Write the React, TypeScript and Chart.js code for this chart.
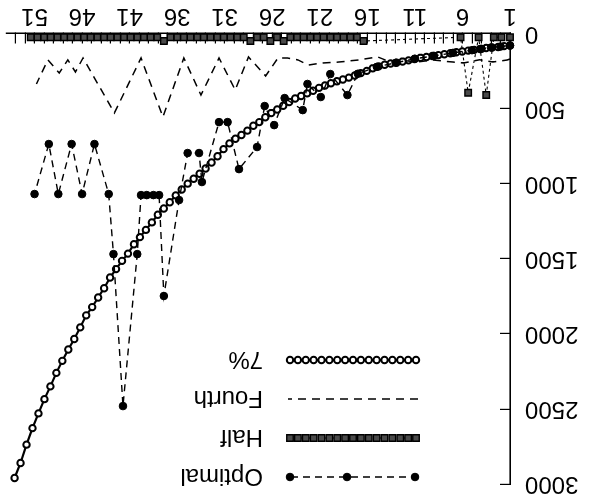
import React, { useEffect, useRef } from 'react';
import { Chart, registerables } from 'chart.js';

Chart.register(...registerables);

// ---- axis ticks ----
const X_TICK_LABELS = [1, 6, 11, 16, 21, 26, 31, 36, 41, 46, 51];
const X_MIN = 1;
const X_MAX = 54;
const Y_MIN = 0;
const Y_MAX = 3000;
const Y_TICK_VALUES = [0, 500, 1000, 1500, 2000, 2500, 3000];

// ---- series ----
const SERIES_NAMES = ['Optimal', 'Half', 'Fourth', '7%'];

const OPTIMAL_X = [1, 2, 3, 4, 5, 7, 9, 11, 13, 15, 17, 18.1, 19.9, 20.9, 22.3, 22.8, 24.7, 25.8, 26.8, 27.6, 29.5, 30.7, 31.6, 33.4, 33.7, 34.9, 35.8, 37.4, 37.9, 38.5, 39.2, 39.8, 40.2, 41.7, 42.7, 43.2, 44.7, 46.0, 47.1, 48.5, 49.5, 51.0];
const OPTIMAL_Y = [80, 87, 93, 102, 111, 129, 149, 168, 195, 222, 268, 410, 270, 423, 336, 510, 430, 610, 483, 756, 903, 590, 590, 989, 796, 796, 1109, 1748, 1076, 1076, 1076, 1076, 1469, 2481, 1469, 1069, 736, 1069, 736, 1069, 736, 1069];

const HALF_X = [1, 1.9, 2.7, 3.5, 4.3, 5.4, 6.2,
  16.4, 17.1, 17.8, 18.5, 19.2, 19.9, 20.6, 21.3, 22.0, 22.7,
  23.4, 24.1, 24.8, 25.5, 26.2, 26.9, 27.6, 28.3, 29.0, 29.7,
  30.4, 31.1, 31.8, 32.5, 33.2, 33.9, 34.6, 35.3, 36.0, 36.7,
  37.4, 38.1, 38.8, 39.5, 40.2, 40.9, 41.6, 42.3, 43.0, 43.7,
  44.4, 45.1, 45.8, 46.5, 47.2, 47.9, 48.6, 49.3, 50.0, 50.7, 51.4];
const HALF_Y = [25, 25, 25, 410, 25, 395, 25,
  50, 25, 25, 25, 25, 25, 25, 25, 25, 25,
  25, 25, 50, 25, 50, 25, 25, 50, 25, 25,
  25, 25, 25, 25, 25, 25, 25, 25, 25, 25,
  50, 25, 25, 25, 25, 25, 25, 25, 25, 25,
  25, 25, 25, 25, 25, 25, 25, 25, 25, 25, 25];

const FOURTH_X = [1, 1.3, 2.8, 4.2, 5.9, 7.0, 9.1, 10.8, 12.2, 13.6, 14.9, 16.9, 19.0, 20.7, 22.2, 23.3, 24.4, 25.4, 26.7, 28.5, 29.9, 31.6, 33.5, 35.3, 37.5, 39.8, 42.6, 45.9, 46.7, 47.5, 48.4, 49.6, 50.8];
const FOURTH_Y = [170, 176, 190, 175, 196, 190, 176, 190, 180, 190, 156, 176, 190, 196, 210, 176, 163, 163, 283, 156, 376, 163, 410, 163, 556, 163, 529, 163, 256, 176, 263, 176, 336];

// 7% series: evenly spaced samples starting at x = 1
const SEVEN_START = 1;
const SEVEN_STEP = 0.6277;
const SEVEN_Y = [80, 84, 90, 93, 97, 103, 109, 114, 120, 125,
  132, 138, 144, 150, 156, 162, 170, 179, 187, 194,
  200, 208, 219, 232, 249, 264, 280, 294, 306, 318,
  331, 346, 362, 381, 399, 416, 433, 456, 481, 506,
  530, 558, 590, 614, 647, 676, 701, 732, 770, 817,
  859, 899, 934, 967, 1000, 1039, 1078, 1124, 1165, 1207,
  1258, 1308, 1356, 1403, 1466, 1514, 1569, 1625, 1696, 1758,
  1822, 1877, 1957, 2034, 2104, 2180, 2260, 2350, 2435, 2530,
  2628, 2738, 2860, 2960];

const FONT_FAMILY = '"Liberation Sans", Arial, sans-serif';
const FONT_SIZE = 24;

const pts = (xs: number[], ys: number[]) => xs.map((x, i) => ({ x, y: ys[i] }));

// ---- legend drawn inside the plot (gnuplot style: sample then text) ----
const LEGEND_ROW_Y = [17, 56, 95, 134];
const LEGEND_X0 = 172;
const LEGEND_X1 = 302;
const LEGEND_TEXT_X = 327;

function drawMarker(ctx: CanvasRenderingContext2D, style: string, x: number, y: number, r: number, fill: string, bw: number) {
  ctx.save();
  ctx.setLineDash([]);
  ctx.lineWidth = bw;
  ctx.strokeStyle = '#000';
  ctx.fillStyle = fill;
  ctx.beginPath();
  if (style === 'rect') {
    const s = Math.SQRT1_2 * r;
    ctx.rect(x - s, y - s, 2 * s, 2 * s);
  } else {
    ctx.arc(x, y, r, 0, Math.PI * 2);
  }
  ctx.fill();
  if (bw > 0) ctx.stroke();
  ctx.restore();
}

const legendPlugin = {
  id: 'gnuLegend',
  afterDraw(chart: any) {
    const ctx: CanvasRenderingContext2D = chart.ctx;
    chart.data.datasets.forEach((ds: any, i: number) => {
      const y = LEGEND_ROW_Y[i];
      ctx.save();
      ctx.strokeStyle = '#000';
      ctx.lineWidth = ds.borderWidth;
      ctx.setLineDash(ds.borderDash || []);
      ctx.beginPath();
      ctx.moveTo(LEGEND_X0, y);
      ctx.lineTo(LEGEND_X1, y);
      ctx.stroke();
      ctx.restore();
      let xs: number[] = [];
      if (ds.legendMarkers === 'ends') {
        xs = [LEGEND_X0 + 3, 243, LEGEND_X1 - 2];
      } else if (ds.legendMarkers === 'dense') {
        const n = 17;
        for (let k = 0; k < n; k++) xs.push(LEGEND_X0 + 2 + (k * (LEGEND_X1 - LEGEND_X0 - 4)) / (n - 1));
      }
      xs.forEach((mx) => drawMarker(ctx, ds.pointStyle, mx, y, ds.pointRadius, ds.pointBackgroundColor, ds.pointBorderWidth));
      ctx.save();
      ctx.fillStyle = '#000';
      ctx.font = `${FONT_SIZE}px ${FONT_FAMILY}`;
      ctx.textBaseline = 'middle';
      ctx.textAlign = 'left';
      ctx.fillText(SERIES_NAMES[i], LEGEND_TEXT_X, y + 1);
      ctx.restore();
    });
  },
};

export default function App() {
  const canvasRef = useRef<HTMLCanvasElement>(null);

  useEffect(() => {
    const canvas = canvasRef.current;
    if (!canvas) return;
    const sevenX = SEVEN_Y.map((_, i) => SEVEN_START + i * SEVEN_STEP);
    const minorTicks: number[] = [];
    for (let v = X_MIN; v < X_MAX; v++) minorTicks.push(v);

    const chart = new Chart(canvas, {
      type: 'line',
      data: {
        datasets: [
          {
            label: SERIES_NAMES[0],
            data: pts(OPTIMAL_X, OPTIMAL_Y),
            borderColor: '#000',
            borderWidth: 1.4,
            borderDash: [7, 5],
            pointStyle: 'circle',
            pointRadius: 3.8,
            pointBackgroundColor: '#000',
            pointBorderColor: '#000',
            pointBorderWidth: 1,
            tension: 0,
            clip: false,
            legendMarkers: 'ends',
          } as any,
          {
            label: SERIES_NAMES[1],
            data: pts(HALF_X, HALF_Y),
            borderColor: '#000',
            borderWidth: 1.1,
            borderDash: [3, 3],
            pointStyle: 'rect',
            pointRadius: 4.6,
            pointBackgroundColor: '#4a4a4a',
            pointBorderColor: '#000',
            pointBorderWidth: 1.4,
            tension: 0,
            clip: false,
            legendMarkers: 'dense',
          } as any,
          {
            label: SERIES_NAMES[2],
            data: pts(FOURTH_X, FOURTH_Y),
            borderColor: '#000',
            borderWidth: 1.5,
            borderDash: [8, 6],
            pointRadius: 0,
            tension: 0,
            clip: false,
            legendMarkers: 'none',
          } as any,
          {
            label: SERIES_NAMES[3],
            data: pts(sevenX, SEVEN_Y),
            borderColor: '#000',
            borderWidth: 2.2,
            pointStyle: 'circle',
            pointRadius: 3.2,
            pointBackgroundColor: '#fff',
            pointBorderColor: '#000',
            pointBorderWidth: 2,
            tension: 0,
            clip: false,
            legendMarkers: 'dense',
          } as any,
        ],
      },
      options: {
        responsive: false,
        devicePixelRatio: 1,
        animation: false,
        events: [],
        layout: { padding: { left: 0, top: 10, right: 4.4, bottom: 0 } },
        plugins: { legend: { display: false }, tooltip: { enabled: false } },
        scales: {
          x: {
            type: 'linear',
            position: 'bottom',
            min: X_MIN,
            max: X_MAX,
            grid: { display: true, drawOnChartArea: false, drawTicks: true, tickLength: -10, color: '#000', lineWidth: 1.2 },
            border: { display: true, color: '#000', width: 1.6 },
            ticks: {
              autoSkip: false,
              maxRotation: 0,
              padding: 13,
              color: '#000',
              font: { family: FONT_FAMILY, size: FONT_SIZE },
              callback: (v: any) => (X_TICK_LABELS.includes(Number(v)) ? String(v) : ''),
            },
            afterBuildTicks: (axis: any) => {
              axis.ticks = minorTicks.map((v) => ({ value: v }));
            },
            afterFit: (s: any) => {
              s.height = 33.5;
            },
          },
          y: {
            type: 'linear',
            position: 'left',
            min: Y_MIN,
            max: Y_MAX,
            grid: { display: true, drawOnChartArea: false, drawTicks: true, tickLength: -10, color: '#000', lineWidth: 1.2 },
            border: { display: true, color: '#000', width: 1.6 },
            ticks: {
              padding: 25,
              color: '#000',
              font: { family: FONT_FAMILY, size: FONT_SIZE },
              callback: (v: any) => String(v),
            },
            afterBuildTicks: (axis: any) => {
              axis.ticks = Y_TICK_VALUES.map((v) => ({ value: v }));
            },
            afterFit: (s: any) => {
              s.width = 80;
              s.paddingTop = 0;
              s.paddingBottom = 0;
            },
          },
        },
      },
      plugins: [legendPlugin],
    });
    return () => chart.destroy();
  }, []);

  return (
    <div
      style={{
        position: 'fixed',
        left: 0,
        top: 0,
        width: 590,
        height: 494,
        background: '#fff',
        transform: 'rotate(180deg)',
        transformOrigin: '50% 50%',
      }}
    >
      <canvas ref={canvasRef} width={590} height={494} style={{ display: 'block', width: 590, height: 494 }} />
    </div>
  );
}
